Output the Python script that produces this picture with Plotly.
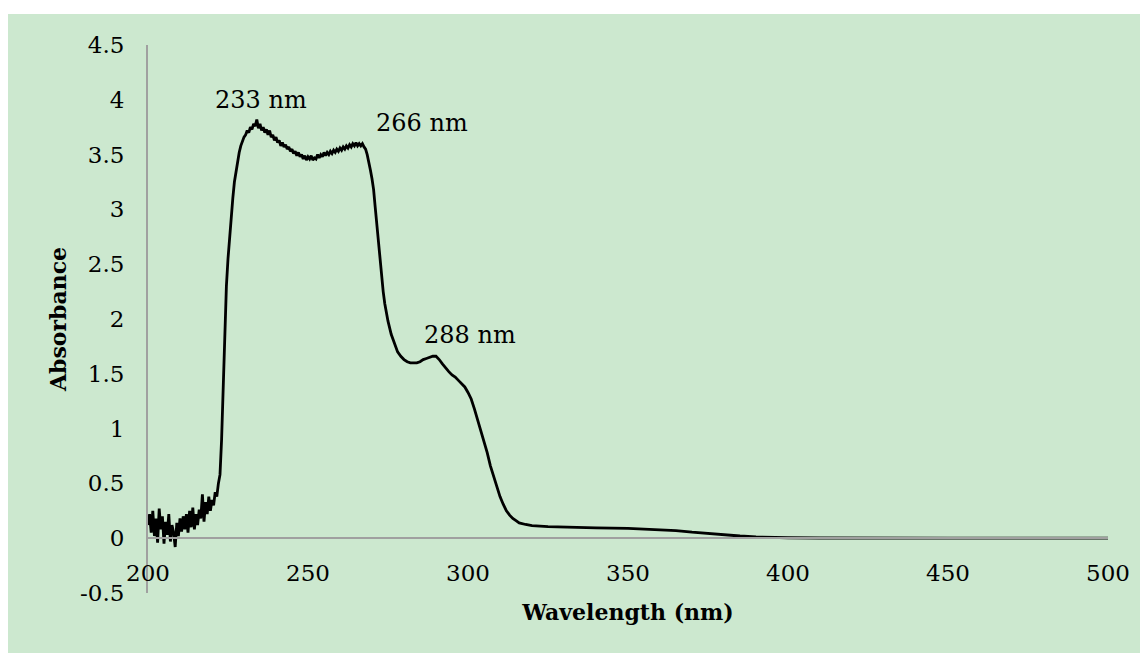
import plotly.graph_objects as go

# Wavelength (nm) and absorbance
wl_noise = [200.0, 200.5, 201.0, 201.5, 202.0, 202.5, 203.0, 203.5, 204.0, 204.5,
            205.0, 205.5, 206.0, 206.5, 207.0, 207.5, 208.0, 208.5, 209.0, 209.5,
            210.0, 210.5, 211.0, 211.5, 212.0, 212.5, 213.0, 213.5, 214.0, 214.5,
            215.0, 215.5, 216.0, 216.5, 217.0, 217.5, 218.0, 218.5, 219.0, 219.5,
            220.0, 220.5, 221.0, 221.5, 222.0, 222.5]
abs_noise = [0.12, 0.22, 0.05, 0.25, 0.02, 0.18, -0.04, 0.27, 0.08, 0.20,
             -0.05, 0.15, 0.03, 0.22, -0.03, 0.12, 0.05, -0.08, 0.14, 0.02,
             0.18, 0.06, 0.20, 0.08, 0.22, 0.05, 0.25, 0.10, 0.28, 0.08,
             0.22, 0.12, 0.26, 0.18, 0.40, 0.15, 0.33, 0.22, 0.38, 0.25,
             0.35, 0.30, 0.42, 0.38, 0.50, 0.58]

wl_rise = [223.0, 223.5, 224.0, 224.5, 225.0, 225.5, 226.0, 226.5, 227.0, 227.5,
           228.0, 228.5, 229.0, 229.5, 230.0]
abs_rise = [0.90, 1.40, 1.90, 2.30, 2.55, 2.75, 2.95, 3.10, 3.25, 3.35,
            3.45, 3.52, 3.58, 3.62, 3.66]

wl_plateau = [230.5, 231.0, 231.5, 232.0, 232.5, 233.0, 233.5, 234.0, 234.5, 235.0,
              235.5, 236.0, 236.5, 237.0, 237.5, 238.0, 238.5, 239.0, 239.5, 240.0,
              240.5, 241.0, 241.5, 242.0, 242.5, 243.0, 243.5, 244.0, 244.5, 245.0,
              245.5, 246.0, 246.5, 247.0, 247.5, 248.0, 248.5, 249.0, 249.5, 250.0,
              250.5, 251.0, 251.5, 252.0, 252.5, 253.0, 253.5, 254.0, 254.5, 255.0,
              255.5, 256.0, 256.5, 257.0, 257.5, 258.0, 258.5, 259.0, 259.5, 260.0,
              260.5, 261.0, 261.5, 262.0, 262.5, 263.0, 263.5, 264.0, 264.5, 265.0,
              265.5, 266.0, 266.5, 267.0, 267.5, 268.0]
abs_plateau = [3.68, 3.72, 3.70, 3.75, 3.73, 3.78, 3.76, 3.82, 3.74, 3.78,
               3.72, 3.75, 3.70, 3.73, 3.68, 3.72, 3.66, 3.68, 3.63, 3.66,
               3.61, 3.63, 3.58, 3.61, 3.57, 3.59, 3.55, 3.57, 3.53, 3.55,
               3.51, 3.53, 3.49, 3.52, 3.48, 3.50, 3.46, 3.49, 3.45, 3.48,
               3.46, 3.49, 3.45, 3.47, 3.46, 3.50, 3.47, 3.50, 3.48, 3.52,
               3.49, 3.52, 3.50, 3.53, 3.51, 3.54, 3.52, 3.55, 3.53, 3.56,
               3.54, 3.57, 3.55, 3.58, 3.56, 3.59, 3.57, 3.60, 3.58, 3.61,
               3.58, 3.60, 3.58, 3.60, 3.57, 3.55]

wl_tail = [268.5, 269.0, 269.5, 270.0, 270.5, 271.0, 271.5, 272.0, 272.5, 273.0,
           273.5, 274.0, 275.0, 276.0, 277.0, 278.0, 279.0, 280.0, 281.0, 282.0,
           283.0, 284.0, 285.0, 286.0, 287.0, 288.0, 289.0, 290.0, 291.0, 292.0,
           293.0, 294.0, 295.0, 296.0, 297.0, 298.0, 299.0, 300.0, 301.0, 302.0,
           303.0, 304.0, 305.0, 306.0, 307.0, 308.0, 309.0, 310.0, 311.0, 312.0,
           313.0, 314.0, 315.0, 316.0, 318.0, 320.0, 325.0, 330.0, 340.0, 350.0,
           360.0, 365.0, 370.0, 375.0, 380.0, 385.0, 390.0, 395.0, 400.0, 410.0,
           420.0, 450.0, 500.0]
abs_tail = [3.50, 3.44, 3.36, 3.28, 3.18, 3.02, 2.85, 2.68, 2.52, 2.38,
            2.25, 2.14, 1.98, 1.86, 1.77, 1.70, 1.66, 1.63, 1.61, 1.60,
            1.60, 1.60, 1.61, 1.63, 1.64, 1.65, 1.66, 1.66, 1.63, 1.59,
            1.55, 1.52, 1.49, 1.47, 1.44, 1.41, 1.38, 1.33, 1.27, 1.18,
            1.08, 0.99, 0.88, 0.78, 0.66, 0.56, 0.46, 0.38, 0.31, 0.25,
            0.21, 0.18, 0.16, 0.14, 0.125, 0.115, 0.105, 0.10, 0.095, 0.09,
            0.078, 0.07, 0.055, 0.042, 0.03, 0.02, 0.012, 0.007, 0.004, 0.002,
            0.001, 0.0, 0.0]

wavelength = wl_noise + wl_rise + wl_plateau + wl_tail
absorbance = abs_noise + abs_rise + abs_plateau + abs_tail

x_ticks = [200, 250, 300, 350, 400, 450, 500]
y_ticks = [-0.5, 0, 0.5, 1, 1.5, 2, 2.5, 3, 3.5, 4, 4.5]
y_tick_text = ["-0.5", "0", "0.5", "1", "1.5", "2", "2.5", "3", "3.5", "4", "4.5"]

peak_labels = ["233 nm", "266 nm", "288 nm"]
peak_label_x = [235.3, 285.6, 300.6]
peak_label_y = [4.0, 3.79, 1.85]

BG = "#CCE8CF"
FONT = "DejaVu Serif"
AXIS_GRAY = "#A0A0A0"

fig = go.Figure()
fig.add_trace(go.Scatter(x=wavelength, y=absorbance, mode="lines",
                         line=dict(color="black", width=2.8), showlegend=False,
                         hoverinfo="skip"))

for t, x, y in zip(peak_labels, peak_label_x, peak_label_y):
    fig.add_annotation(x=x, y=y, text=t, showarrow=False,
                       font=dict(family=FONT, size=24, color="black"),
                       xanchor="center", yanchor="middle")

ML, MR, MT, MB = 140, 48, 37, 68
W, H = 1148, 653
pw, ph = W - ML - MR, H - MT - MB

# green page background with a thin white strip on top
fig.add_shape(type="rect", xref="paper", yref="paper",
              x0=-(ML + 5) / pw, x1=(W + 5 - ML) / pw,
              y0=-(MB + 5) / ph, y1=(H - MB - 6) / ph,
              fillcolor=BG, line=dict(width=0), layer="below")

fig.update_layout(
    width=W, height=H,
    margin=dict(l=ML, r=MR, t=MT, b=MB, autoexpand=False),
    paper_bgcolor="white", plot_bgcolor="rgba(0,0,0,0)",
    font=dict(family=FONT, size=23, color="black"),
    xaxis=dict(range=[200, 500], tickvals=x_ticks, ticktext=[str(v) for v in x_ticks],
               showgrid=False, zeroline=False, showline=True, linecolor=AXIS_GRAY,
               linewidth=2, ticks="", anchor="free", position=(0 - (-0.5)) / 5.0,
               ticklabelstandoff=14, automargin=False,
               tickfont=dict(family=FONT, size=23),
               title=dict(text="<b>Wavelength (nm)</b>", standoff=19,
                          font=dict(family=FONT, size=22))),
    yaxis=dict(range=[-0.5, 4.5], tickvals=y_ticks, ticktext=y_tick_text,
               showgrid=False, zeroline=False, showline=True, linecolor=AXIS_GRAY,
               linewidth=2, ticks="", ticklabelstandoff=17, automargin=False,
               tickfont=dict(family=FONT, size=23),
               title=dict(text="<b>Absorbance</b>", standoff=7,
                          font=dict(family=FONT, size=22))),
)

fig.write_html("out.html")
